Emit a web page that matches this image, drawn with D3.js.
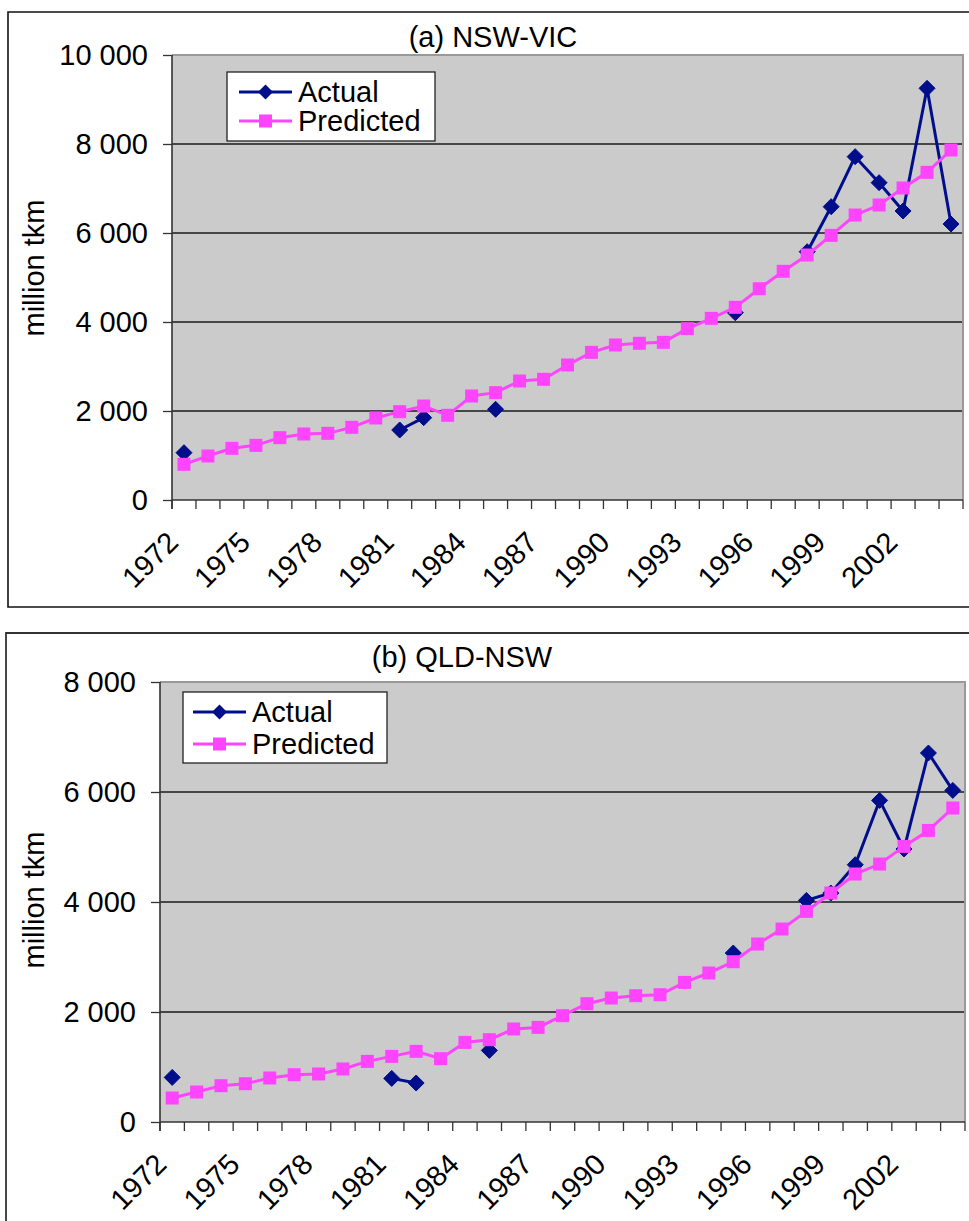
<!DOCTYPE html>
<html><head><meta charset="utf-8">
<script src="https://cdn.jsdelivr.net/npm/d3@7"></script>
<style>
html,body{margin:0;padding:0;background:#fff;}
svg text{font-family:"Liberation Sans",Arial,sans-serif;fill:#000;}
</style></head>
<body>
<svg id="chart" width="969" height="1221"></svg>
<script>
const years = d3.range(1972, 2005);
const xLabelYears = [1972,1975,1978,1981,1984,1987,1990,1993,1996,1999,2002];

const nswVicActual = [1063,null,null,null,null,null,null,null,null,1573,1850,null,null,2038,null,null,null,null,null,null,null,null,null,4209,null,null,5580,6591,7715,7131,6494,9251,6202];
const nswVicPredicted = [802,989,1161,1228,1401,1483,1498,1633,1843,1985,2112,1903,2337,2412,2674,2712,3034,3318,3483,3521,3543,3850,4082,4330,4748,5139,5505,5947,6404,6629,7011,7363,7865];

const qldNswActual = [811,null,null,null,null,null,null,null,null,793,709,null,null,1302,null,null,null,null,null,null,null,null,null,3072,null,null,4029,4163,4678,5847,4963,6709,6029];
const qldNswPredicted = [436,545,660,696,800,860,873,964,1102,1193,1284,1151,1447,1496,1691,1720,1933,2151,2254,2296,2314,2538,2709,2914,3236,3509,3829,4163,4509,4690,5011,5301,5709];

const nswVicTicks = [0,2000,4000,6000,8000,10000];
const qldNswTicks = [0,2000,4000,6000,8000];

const seriesNames = ["Actual","Predicted"];
const actualColor = "#000e8c";
const predColor = "#ff44ff";

const svg = d3.select("#chart");
const fmt = v => d3.format(",")(v).replace(/,/g, " ");

function drawChart(cfg) {
  const g = svg.append("g");
  g.append("path").attr("d", cfg.frame).attr("fill","none").attr("stroke",cfg.frameColor).attr("stroke-width",cfg.frameWidth);

  const x = d3.scaleBand().domain(years).range([cfg.left, cfg.right]).padding(0);
  const y = d3.scaleLinear().domain([0, cfg.ymax]).range([cfg.bottom, cfg.top]);
  const bw = x.bandwidth();

  g.append("rect").attr("x",cfg.left).attr("y",cfg.top).attr("width",cfg.right-cfg.left).attr("height",cfg.bottom-cfg.top).attr("fill","#cbcbcb");
  g.selectAll(".grid").data(cfg.ticks.filter(t=>t>0 && t<cfg.ymax)).join("line")
    .attr("x1",cfg.left).attr("x2",cfg.right).attr("y1",d=>y(d)).attr("y2",d=>y(d))
    .attr("stroke","#1a1a1a").attr("stroke-width",1.3);
  g.append("path").attr("d",`M${cfg.left},${cfg.top}H${cfg.right}V${cfg.bottom}`).attr("fill","none").attr("stroke","#999").attr("stroke-width",2);

  const ya = d3.axisLeft(y).tickValues(cfg.ticks).tickSize(9).tickFormat(fmt).tickPadding(15);
  const yg = g.append("g").attr("transform",`translate(${cfg.left},0)`).call(ya);
  yg.select(".domain").attr("stroke","#333").attr("stroke-width",1.6).attr("d",`M0,${cfg.top}V${cfg.bottom+9}`);
  yg.selectAll(".tick line").attr("stroke","#333").attr("stroke-width",1.3);
  yg.selectAll(".tick text").attr("font-size",29).attr("font-family","Liberation Sans, Arial, sans-serif").attr("fill","#000");

  g.append("line").attr("x1",cfg.left).attr("x2",cfg.right).attr("y1",cfg.bottom).attr("y2",cfg.bottom).attr("stroke","#333").attr("stroke-width",1.6);
  const edges = years.map(d=>x(d)).concat([cfg.right]);
  g.selectAll(".xt").data(edges).join("line")
    .attr("x1",d=>d).attr("x2",d=>d).attr("y1",cfg.bottom).attr("y2",cfg.bottom+9)
    .attr("stroke","#333").attr("stroke-width",1.3);
  g.selectAll(".xl").data(xLabelYears).join("text")
    .attr("transform",d=>`translate(${x(d)+bw/2-4},${cfg.bottom+cfg.labOff}) rotate(-45)`)
    .attr("text-anchor","end").attr("font-size",29).text(d=>d);

  g.append("text").attr("transform",`translate(${cfg.ytX},${cfg.ytY}) rotate(-90)`)
    .attr("text-anchor","middle").attr("font-size",29).text("million tkm");
  g.append("text").attr("x",cfg.titleX).attr("y",cfg.titleY).attr("text-anchor","middle").attr("font-size",29).text(cfg.title);

  const line = d3.line().defined(d=>d.v!=null).x(d=>x(d.year)+bw/2).y(d=>y(d.v));
  const pred = years.map((yr,i)=>({year:yr,v:cfg.pred[i]}));
  const act = years.map((yr,i)=>({year:yr,v:cfg.act[i]}));

  g.append("path").datum(act).attr("d",line).attr("fill","none").attr("stroke",actualColor).attr("stroke-width",3).attr("stroke-linejoin","round");
  g.selectAll(".am").data(act.filter(d=>d.v!=null)).join("path")
    .attr("transform",d=>`translate(${x(d.year)+bw/2},${y(d.v)})`)
    .attr("d","M0,-8L8,0L0,8L-8,0Z").attr("fill",actualColor).attr("stroke",actualColor).attr("stroke-width",1).attr("stroke-linejoin","round");

  g.append("path").datum(pred).attr("d",line).attr("fill","none").attr("stroke",predColor).attr("stroke-width",3);
  g.selectAll(".pm").data(pred).join("rect")
    .attr("x",d=>x(d.year)+bw/2-6.5).attr("y",d=>y(d.v)-6.5).attr("width",13).attr("height",13).attr("fill",predColor);

  const L = cfg.legend;
  g.append("rect").attr("x",L.x).attr("y",L.y).attr("width",L.w).attr("height",L.h).attr("fill","#fff").attr("stroke","#222").attr("stroke-width",1.3);
  const rows = [
    {name:seriesNames[0], color:actualColor, y:L.row1, shape:"diamond"},
    {name:seriesNames[1], color:predColor, y:L.row2, shape:"square"}
  ];
  rows.forEach(r=>{
    g.append("line").attr("x1",L.lx1).attr("x2",L.lx2).attr("y1",r.y).attr("y2",r.y).attr("stroke",r.color).attr("stroke-width",3);
    const mx = (L.lx1+L.lx2)/2;
    if (r.shape==="diamond") {
      g.append("path").attr("transform",`translate(${mx},${r.y})`).attr("d","M0,-7.5L7.5,0L0,7.5L-7.5,0Z").attr("fill",r.color);
    } else {
      g.append("rect").attr("x",mx-6.5).attr("y",r.y-6.5).attr("width",13).attr("height",13).attr("fill",r.color);
    }
    g.append("text").attr("x",L.tx).attr("y",r.y).attr("dy","0.36em").attr("font-size",29).text(r.name);
  });
}

drawChart({
  frame:"M975,12H8V607H975", frameColor:"#111", frameWidth:1.6,
  left:172, right:963, top:55, bottom:500, ymax:10000, ticks:nswVicTicks,
  pred:nswVicPredicted, act:nswVicActual, labOff:44,
  ytX:44, ytY:268, titleX:493, titleY:47, title:"(a) NSW-VIC",
  legend:{x:227,y:72,w:208,h:69,row1:92,row2:121,lx1:239,lx2:292,tx:298}
});

drawChart({
  frame:"M6,1230V633H975", frameColor:"#333", frameWidth:1.8,
  left:160, right:965, top:682, bottom:1122, ymax:8000, ticks:qldNswTicks,
  pred:qldNswPredicted, act:qldNswActual, labOff:44,
  ytX:44, ytY:900, titleX:462, titleY:667, title:"(b) QLD-NSW",
  legend:{x:183,y:692,w:204,h:71,row1:712,row2:744,lx1:193,lx2:246,tx:252}
});
</script>
</body></html>
